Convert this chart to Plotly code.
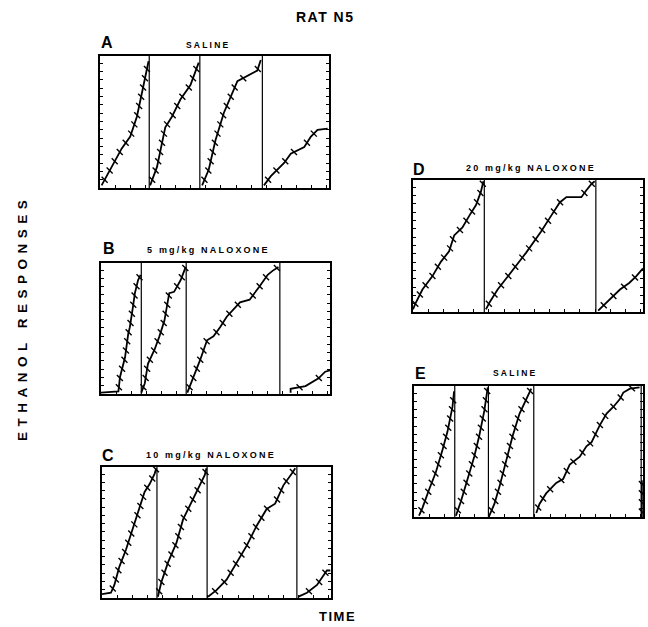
import numpy as np
import plotly.graph_objects as go

# ---------------- data (cumulative records, % of full pen excursion vs % of record time) ----------------
A_x = [[0.7, 2.9, 9.5, 13.2, 16.1, 18.3, 21.2],
       [21.9, 24.9, 28.5, 31.4, 35.1, 39.5, 43.1],
       [44.6, 47.5, 50.4, 54.1, 60.0, 65.8, 68.7, 70.2],
       [71.6, 74.6, 80.4, 83.3, 89.2, 92.1, 95.0, 99.4]]
A_y = [[2, 9, 30, 39, 54, 72, 96],
       [2, 16, 46, 54, 67, 78, 95],
       [2, 14, 36, 57, 81, 86, 89, 97],
       [2, 9, 19, 26, 31, 39, 44, 45]]
A_resets = [21.5, 43.6, 70.9]

B_x = [[0, 7.6, 8.3, 10.5, 11.9, 12.6, 14.0, 14.8, 16.2, 17.3],
       [17.6, 19.1, 20.5, 23.4, 25.5, 27.7, 29.8, 31.9, 34.8, 37.0],
       [37.7, 40.5, 43.3, 46.3, 49.1, 52.0, 54.9, 60.7, 64.9, 69.2, 72.8, 74.9, 77.5],
       [82.8, 82.8, 89.3, 95.0, 97.9, 100]]
B_y = [[1, 2, 13, 28, 46, 51, 67, 77, 87, 91],
       [1, 8, 23, 34, 44, 56, 77, 78, 87, 97],
       [1, 13, 26, 41, 44, 51, 59, 70, 72, 82, 91, 94, 97],
       [1, 4, 6, 12, 17, 18]]
B_resets = [17.6, 37.2, 78.1]

C_x = [[0, 3.9, 5.4, 7.6, 10.5, 13.5, 16.4, 18.6, 20.8, 23.0, 23.7],
       [24.4, 25.9, 28.8, 32.5, 35.4, 39.0, 42.0, 44.9, 45.6],
       [46.3, 50.0, 54.4, 58.8, 63.2, 67.5, 71.9, 75.6, 79.2, 82.9, 84.4],
       [85.8, 89.5, 93.9, 96.8, 98.2, 99.7]]
C_y = [[3, 4, 10, 24, 37, 53, 68, 81, 87, 95, 99],
       [1, 12, 27, 42, 60, 73, 83, 94, 99],
       [1, 6, 14, 27, 40, 55, 68, 72, 86, 95, 99],
       [1, 4, 10, 17, 21, 21]]
C_resets = [24.0, 45.9, 85.1]

D_x = [[0, 1.2, 4.1, 8.4, 12.1, 15.7, 17.9, 21.5, 24.5, 27.4, 29.5, 30.6],
       [31.7, 33.2, 36.8, 40.5, 44.8, 49.2, 52.8, 55.7, 60.1, 63.8, 66.7, 73.2, 75.3, 77.6, 79.0],
       [80.5, 84.0, 87.0, 90.0, 94.0, 97.0, 100]]
D_y = [[2, 7, 17, 27, 38, 46, 58, 64, 73, 81, 91, 99],
       [2, 7, 17, 25, 35, 45, 54, 61, 73, 83, 87, 87, 92, 97, 99],
       [1, 7, 12, 17, 22, 27, 33]]
D_resets = [31.0, 79.5]

E_x = [[2.2, 3.7, 6.6, 9.5, 12.4, 14.6, 16.8, 17.5],
       [18.3, 20.5, 23.4, 26.3, 28.5, 30.7, 32.2],
       [32.9, 35.1, 37.3, 40.2, 43.1, 46.1, 49.0, 51.2],
       [53.4, 54.8, 57.7, 62.1, 65.1, 68.0, 72.4, 75.3, 77.5, 81.1, 84.1, 87.0, 89.9, 91.4, 94.3, 96.5, 98.5],
       [99.5, 99.5]]
E_y = [[1, 7, 21, 34, 51, 65, 84, 96],
       [1, 12, 29, 46, 62, 81, 99],
       [1, 10, 23, 43, 62, 79, 90, 98],
       [3, 10, 18, 26, 29, 40, 46, 54, 57, 70, 79, 84, 90, 95, 98, 98.5, 99],
       [0, 28]]
E_resets = [17.8, 32.5, 52.3, 99.2]

panel_letters = ["A", "B", "C", "D", "E"]
panel_titles = ["SALINE", "5 mg/kg NALOXONE", "10 mg/kg NALOXONE", "20 mg/kg NALOXONE", "SALINE"]
PIP_STEP = 7.0  # responses between reinforcement pips (% of full scale)

# ---------------- layout geometry (pixels) ----------------
W, H = 648, 627
boxes = {  # left, right, top, bottom in px
    "A": (100, 329, 56, 188),
    "B": (101, 330, 263, 394),
    "C": (102, 331, 467, 598),
    "D": (413, 643, 180, 312),
    "E": (414, 643, 386, 517),
}
letter_pos = {"A": (107, 42), "B": (109, 249), "C": (108, 455), "D": (419, 170), "E": (420, 373)}
title_pos = {"A": (208, 45), "B": (208, 250), "C": (211, 455), "D": (531, 168), "E": (515, 373)}

data = {"A": (A_x, A_y, A_resets), "B": (B_x, B_y, B_resets), "C": (C_x, C_y, C_resets),
        "D": (D_x, D_y, D_resets), "E": (E_x, E_y, E_resets)}

fig = go.Figure()
FONT = "Liberation Sans, Arial, Helvetica, sans-serif"

for i, key in enumerate(panel_letters, start=1):
    xs, ys, resets = data[key]
    xa, ya = ("x" if i == 1 else f"x{i}"), ("y" if i == 1 else f"y{i}")
    # reset (pen return) lines
    rx, ry = [], []
    for r in resets:
        rx += [r, r, None]
        ry += [0, 100, None]
    fig.add_trace(go.Scatter(x=rx, y=ry, mode="lines", xaxis=xa, yaxis=ya,
                             line=dict(color="black", width=1.2), hoverinfo="skip", showlegend=False))
    for sx, sy in zip(xs, ys):
        fig.add_trace(go.Scatter(x=sx, y=sy, mode="lines", xaxis=xa, yaxis=ya,
                                 line=dict(color="black", width=1.8), hoverinfo="skip", showlegend=False))
        # reinforcement pips at fixed response increments
        sy_a = np.array(sy, float)
        sx_a = np.array(sx, float)
        if sy_a[-1] - sy_a[0] > PIP_STEP:
            levels = np.arange(sy_a[0] + PIP_STEP * 0.6, sy_a[-1], PIP_STEP)
            px_ = np.interp(levels, sy_a, sx_a)
            fig.add_trace(go.Scatter(x=px_, y=levels, mode="markers", xaxis=xa, yaxis=ya,
                                     marker=dict(symbol="line-nw", size=6,
                                                 line=dict(color="black", width=1.4)),
                                     hoverinfo="skip", showlegend=False))
    l, r, t, b = boxes[key]
    common = dict(showgrid=False, zeroline=False, showline=True, linecolor="black", linewidth=2,
                  ticks="inside", ticklen=3, tickwidth=1, tickcolor="black",
                  showticklabels=False, fixedrange=True)
    fig.layout[f"xaxis{i}"] = dict(domain=[l / W, r / W], anchor=ya, range=[0, 100],
                                   dtick=6.6, tick0=6.6, mirror=True, **common)
    fig.layout[f"yaxis{i}"] = dict(domain=[1 - b / H, 1 - t / H], anchor=xa, range=[0, 100],
                                   dtick=6.3, tick0=6.3, mirror="ticks", **common)

ann = []
def add_text(txt, px, py, size, spacing=0, angle=0):
    ann.append(dict(text=f'<span style="letter-spacing:{spacing}px"><b>{txt}</b></span>',
                    x=px / W, y=1 - py / H, xref="paper", yref="paper",
                    showarrow=False, textangle=angle, xanchor="center", yanchor="middle",
                    font=dict(family=FONT, size=size, color="black")))

add_text("RAT N5", 325, 17, 14, 1.5)
add_text("TIME", 337, 616, 13, 1.5)
add_text("ETHANOL RESPONSES", 22, 318, 13.5, 5.5, angle=-90)
for key, title in zip(panel_letters, panel_titles):
    lx, ly = letter_pos[key]
    add_text(key, lx, ly, 16, 0)
    tx, ty = title_pos[key]
    add_text(title, tx, ty, 8.5 if title == "SALINE" else 9, 2.2)

fig.update_layout(width=W, height=H, margin=dict(l=0, r=0, t=0, b=0),
                  paper_bgcolor="white", plot_bgcolor="white", annotations=ann,
                  showlegend=False)
fig.write_html("out.html", config={"displayModeBar": False},
               post_script="document.body.style.margin='0px';document.body.style.padding='0px';"
                           "document.body.style.overflow='hidden';")
